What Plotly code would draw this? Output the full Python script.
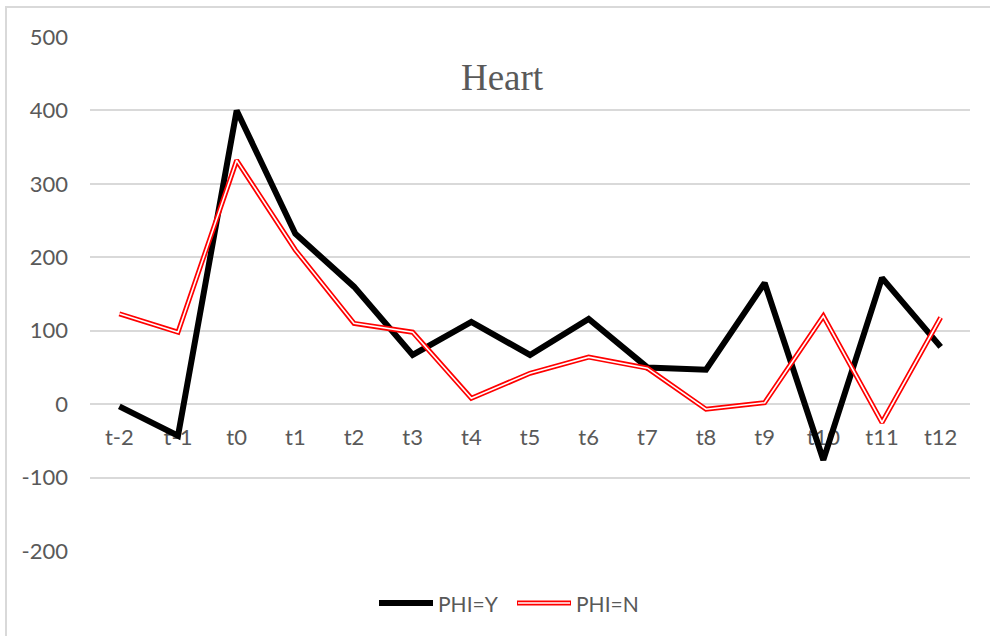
import plotly.graph_objects as go

# Category labels and series values
periods = ["t-2", "t-1", "t0", "t1", "t2", "t3", "t4", "t5", "t6", "t7",
           "t8", "t9", "t10", "t11", "t12"]
phi_y = [-3, -43, 400, 232, 160, 67, 112, 67, 116, 50, 47, 165, -76, 172, 78]
phi_n = [123, 98, 332, 210, 110, 98, 8, 42, 64, 49, -7, 2, 120, -25, 118]

y_ticks = [-200, -100, 0, 100, 200, 300, 400, 500]
y_tick_text = [str(v) for v in y_ticks]

W, H = 990, 636
L, R, T, B = 90, 20, 37, 85
plot_w = W - L - R
plot_h = H - T - B


def px_x(px):
    return (px - L) / plot_w


def px_y(py):
    return (H - B - py) / plot_h


fig = go.Figure()

# PHI=Y: thick black line
fig.add_trace(go.Scatter(x=periods, y=phi_y, mode="lines", name="PHI=Y",
                         line=dict(color="black", width=6),
                         showlegend=False, hoverinfo="skip"))
# PHI=N: red double line (red stroke with a thin white core)
fig.add_trace(go.Scatter(x=periods, y=phi_n, mode="lines", name="PHI=N",
                         line=dict(color="#ff0000", width=5),
                         showlegend=False, hoverinfo="skip"))
fig.add_trace(go.Scatter(x=periods, y=phi_n, mode="lines",
                         line=dict(color="white", width=1.6),
                         showlegend=False, hoverinfo="skip"))

tick_font = dict(family="Lato", size=22, color="#595959")
y_lo, y_hi = -200, 500

fig.update_layout(
    width=W, height=H,
    margin=dict(l=L, r=R, t=T, b=B),
    paper_bgcolor="white", plot_bgcolor="white",
    showlegend=False,
    xaxis=dict(
        type="category", categoryorder="array", categoryarray=periods,
        range=[-0.5, len(periods) - 0.5],
        showgrid=False, zeroline=False, showline=False,
        ticks="", anchor="free",
        position=(0 - y_lo) / (y_hi - y_lo),
        tickfont=tick_font, ticklabelstandoff=18,
        layer="below traces",
    ),
    yaxis=dict(
        range=[y_lo, y_hi], tickvals=y_ticks, ticktext=y_tick_text,
        showgrid=True, gridcolor="#d9d9d9", gridwidth=1.5,
        zeroline=False, showline=False, ticks="",
        tickfont=tick_font, ticklabelstandoff=21,
    ),
    title=dict(text="Heart", xref="container", yref="container",
               x=502 / W, y=1 - 77 / H, xanchor="center", yanchor="middle",
               font=dict(family="Liberation Serif", size=37, color="#595959")),
)

shapes = []
# chart frame
shapes.append(dict(type="rect", xref="paper", yref="paper",
                   x0=px_x(6), x1=px_x(1010), y0=px_y(660), y1=px_y(7),
                   line=dict(color="#d9d9d9", width=2), layer="below"))
# legend keys
ly = px_y(603)
shapes.append(dict(type="line", xref="paper", yref="paper",
                   x0=px_x(379), x1=px_x(433), y0=ly, y1=ly,
                   line=dict(color="black", width=6)))
shapes.append(dict(type="line", xref="paper", yref="paper",
                   x0=px_x(517), x1=px_x(571), y0=ly, y1=ly,
                   line=dict(color="#ff0000", width=5)))
shapes.append(dict(type="line", xref="paper", yref="paper",
                   x0=px_x(518), x1=px_x(570), y0=ly, y1=ly,
                   line=dict(color="white", width=1.6)))
fig.update_layout(shapes=shapes)

legend_font = dict(family="Lato", size=21, color="#595959")
fig.add_annotation(text="PHI=Y", xref="paper", yref="paper",
                   x=px_x(436), y=ly, xanchor="left", yanchor="middle",
                   showarrow=False, font=legend_font)
fig.add_annotation(text="PHI=N", xref="paper", yref="paper",
                   x=px_x(574), y=ly, xanchor="left", yanchor="middle",
                   showarrow=False, font=legend_font)

fig.write_html("out.html")
